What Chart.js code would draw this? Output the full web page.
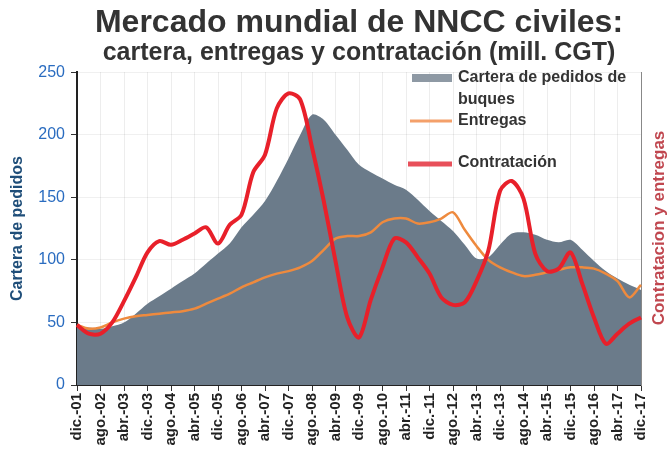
<!DOCTYPE html>
<html>
<head>
<meta charset="utf-8">
<script src="https://cdn.jsdelivr.net/npm/chart.js@4"></script>
<style>
  html, body { margin: 0; padding: 0; background: #fff; }
  #wrap { width: 671px; height: 456px; }
</style>
</head>
<body>
<div id="wrap"><canvas id="myChart" width="671" height="456"></canvas></div>
<script>
// etiquetas cada 4 meses, se muestran cada 8
const meses = ['dic.', 'abr.', 'ago.'];
const fechas = [];
for (let i = 0; i < 49; i++) {
    const m = meses[i % 3];
    const anio = 1 + Math.floor((i + 2) / 3);
    fechas.push(m + '-' + String(anio).padStart(2, '0'));
}

const cartera = [47, 46, 45, 47, 50, 57, 65, 71, 77, 83, 89, 97, 105, 113, 126, 136, 147, 163, 181, 200,
    216, 212, 200, 188, 176, 170, 165, 160, 156, 148, 139, 131, 123, 112, 101, 102, 112, 121, 122, 120,
    116, 114, 116, 108, 99, 91, 85, 80, 76];
const entregas = [48, 45, 46, 50, 53, 55, 56, 57, 58, 59, 61, 65, 69, 73, 78, 82, 86, 89, 91, 94,
    99, 108, 117, 119, 119, 122, 130, 133, 133, 129, 130, 133, 138, 124, 111, 100, 94, 90, 87, 88,
    90, 92, 94, 94, 93, 89, 83, 70, 80];
const contratacion = [48, 41, 41, 50, 67, 86, 106, 115, 112, 116, 121, 126, 113, 128, 136, 170, 184, 221, 233, 228,
    190, 147, 99, 54, 38, 68, 94, 117, 114, 102, 89, 70, 64, 66, 83, 107, 155, 163, 149, 105,
    91, 93, 106, 81, 54, 33, 41, 49, 54];

const fuente = "'Liberation Sans', Arial, sans-serif";

const extras = {
    id: 'extras',
    beforeDraw(chart) {
        const c = chart.ctx;
        c.save();
        c.fillStyle = '#fff';
        c.fillRect(0, 0, chart.width, chart.height);
        c.restore();
    },
    afterDraw(chart) {
        const c = chart.ctx;
        const a = chart.chartArea;
        c.save();
        // titulo del eje derecho
        c.translate(a.right + 18, 228);
        c.rotate(-Math.PI / 2);
        c.fillStyle = '#c0474f';
        c.font = 'bold 17px ' + fuente;
        c.textAlign = 'center';
        c.textBaseline = 'middle';
        c.fillText('Contratacion y entregas', 0, 0);
        c.restore();

        // leyenda
        c.save();
        c.font = 'bold 16px ' + fuente;
        c.textBaseline = 'middle';
        c.fillStyle = '#8e99a4';
        c.fillRect(412, 74, 40, 8);
        c.fillStyle = '#333';
        c.fillText('Cartera de pedidos de', 458, 78);
        c.fillText('buques', 458, 100);
        c.strokeStyle = '#f4a06a';
        c.lineWidth = 3;
        c.beginPath(); c.moveTo(410, 121); c.lineTo(452, 121); c.stroke();
        c.fillText('Entregas', 458, 121);
        c.strokeStyle = '#e8505a';
        c.lineWidth = 5;
        c.beginPath(); c.moveTo(408, 164); c.lineTo(452, 164); c.stroke();
        c.fillText('Contratación', 458, 163);
        c.restore();
    }
};

const ctx = document.getElementById('myChart');

new Chart(ctx, {
    type: 'line',
    data: {
        labels: fechas,
        datasets: [{
            label: 'Cartera de pedidos de buques',
            data: cartera,
            yAxisID: 'y',
            fill: 'origin',
            backgroundColor: '#6b7b8a',
            borderWidth: 0,
            pointRadius: 0,
            tension: 0.3,
            order: 2
        }, {
            label: 'Entregas',
            data: entregas,
            yAxisID: 'y',
            borderColor: '#ee8a3e',
            borderWidth: 2.5,
            pointRadius: 0,
            tension: 0.3,
            order: 1
        }, {
            label: 'Contratación',
            data: contratacion,
            yAxisID: 'y',
            borderColor: '#e8202a',
            borderWidth: 4,
            pointRadius: 0,
            tension: 0.3,
            order: 0
        }]
    },
    options: {
        responsive: false,
        animation: false,
        layout: { padding: { left: 8, right: 0, top: 6, bottom: 0 } },
        plugins: {
            legend: { display: false },
            tooltip: { enabled: false },
            title: {
                display: true,
                text: 'Mercado mundial de NNCC civiles:',
                color: '#333',
                fullSize: false,
                font: { family: fuente, size: 32, weight: 'bold', lineHeight: 1.05 },
                padding: { top: 0, bottom: 0 }
            },
            subtitle: {
                display: true,
                text: 'cartera, entregas y contratación (mill. CGT)',
                color: '#333',
                fullSize: false,
                font: { family: fuente, size: 25, weight: 'bold', lineHeight: 1.1 },
                padding: { top: 0, bottom: 5 }
            }
        },
        scales: {
            x: {
                offset: false,
                grid: { color: 'rgba(0,0,0,0.07)', tickColor: '#333', tickLength: 6, drawOnChartArea: true },
                border: { color: '#222', width: 2 },
                ticks: {
                    autoSkip: false,
                    maxRotation: 90,
                    minRotation: 90,
                    color: '#222',
                    font: { family: fuente, size: 15, weight: 'bold' },
                    padding: 2,
                    callback: function (v, i) { return i % 2 === 0 ? fechas[i] : null; }
                },
                afterFit(s) { s.height = 71; }
            },
            y: {
                position: 'left',
                min: 0,
                max: 250,
                grid: { color: 'rgba(0,0,0,0.06)', tickColor: '#333', tickLength: 6 },
                border: { color: '#222', width: 2 },
                ticks: {
                    stepSize: 50,
                    color: '#2a6cc0',
                    font: { family: fuente, size: 16 },
                    padding: 6
                },
                title: {
                    display: true,
                    text: 'Cartera de pedidos',
                    color: '#1f4e79',
                    font: { family: fuente, size: 16, weight: 'bold' },
                    padding: { top: 0, bottom: 4 }
                },
                afterFit(s) { s.width = 69; }
            },
            y1: {
                position: 'right',
                min: 0,
                max: 250,
                grid: { display: false },
                border: { color: '#888', width: 1 },
                ticks: { display: false },
                afterFit(s) { s.width = 30; }
            }
        }
    },
    plugins: [extras]
});
</script>
</body>
</html>
